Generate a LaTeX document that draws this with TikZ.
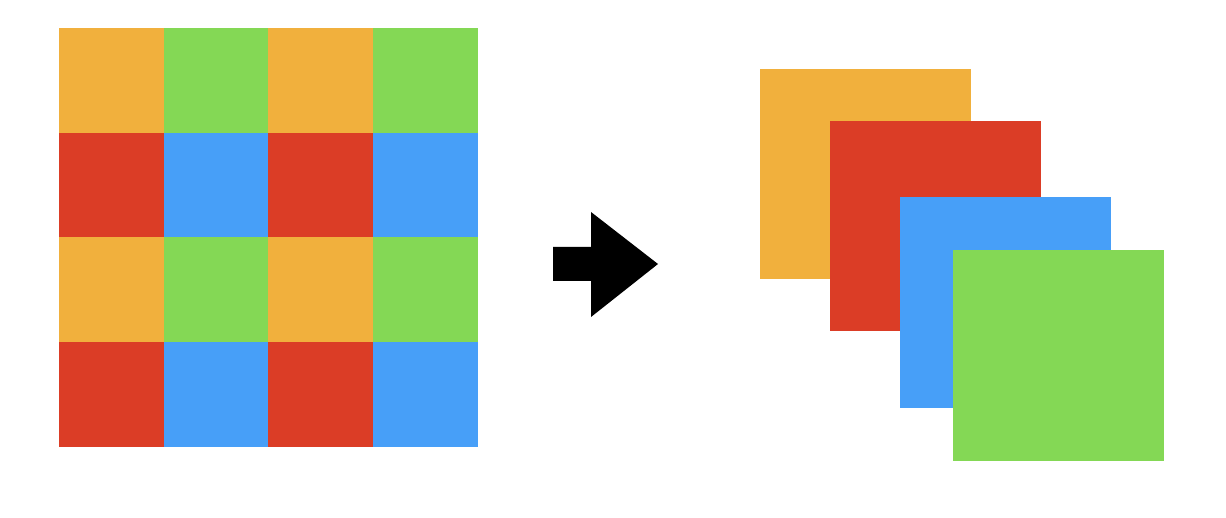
\documentclass[tikz,border=0pt]{standalone}
\usepackage{tikz}

\definecolor{tileorange}{HTML}{F1B03D}
\definecolor{tilegreen}{HTML}{84D855}
\definecolor{tilered}{HTML}{DB3D26}
\definecolor{tileblue}{HTML}{479FF8}

\newcommand\cellsize{104.7}
\newcommand\planesize{210.5}

\begin{document}
\begin{tikzpicture}[x=1pt,y=-1pt]
    \useasboundingbox (0,0) rectangle (1226,518);

    % mosaic
    \foreach \row/\cola/\colb in {0/tileorange/tilegreen,1/tilered/tileblue,2/tileorange/tilegreen,3/tilered/tileblue} {
      \foreach \col in {0,2}
        \fill[\cola] (59+\col*\cellsize,28+\row*\cellsize) rectangle ++(\cellsize,\cellsize);
      \foreach \col in {1,3}
        \fill[\colb] (59+\col*\cellsize,28+\row*\cellsize) rectangle ++(\cellsize,\cellsize);
    }

    % arrow
    \fill[black] (553,247) -- (591,247) -- (591,212) -- (658,264)
      -- (591,317) -- (591,281) -- (553,281) -- cycle;

    % channels
    \fill[tileorange] (760,69) rectangle ++(\planesize,\planesize);
    \fill[tilered] (830,121) rectangle ++(\planesize,\planesize);
    \fill[tileblue] (900,197) rectangle ++(\planesize,\planesize);
    \fill[tilegreen] (953,250) rectangle ++(\planesize,\planesize);
\end{tikzpicture}
\end{document}
